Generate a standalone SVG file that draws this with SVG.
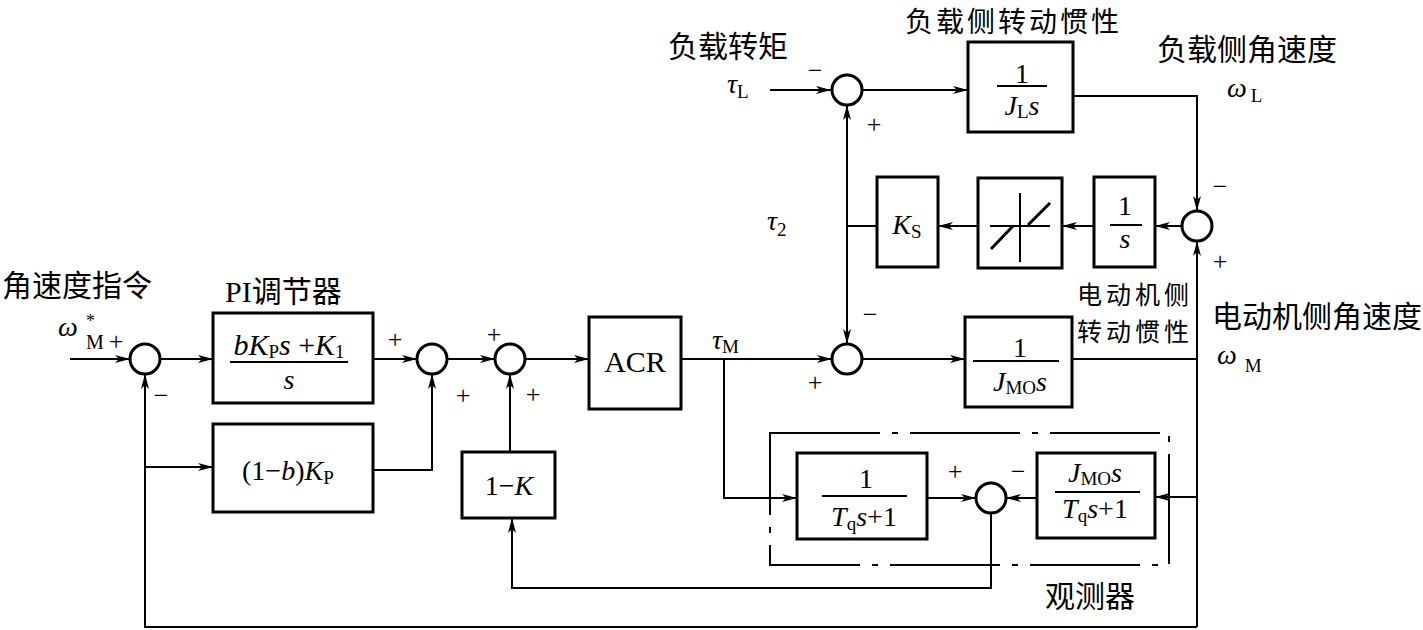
<svg xmlns="http://www.w3.org/2000/svg" width="1423" height="630" viewBox="0 0 1423 630">
<style>
.bg{fill:#fff}
.blk{fill:none;stroke:#000;stroke-width:3}
.sum{fill:#fff;stroke:#000;stroke-width:3}
.ln{fill:none;stroke:#000;stroke-width:2}
.arr{fill:none;stroke:#000;stroke-width:2;marker-end:url(#ah)}
.frac{stroke:#000;stroke-width:2}
.dz{stroke:#000;stroke-width:3;fill:none}
.obs{fill:none;stroke:#000;stroke-width:2;stroke-dasharray:110 12 6 12}
.cn{font-family:"Noto Sans CJK SC","Noto Sans CJK TC",sans-serif;font-size:30px;fill:#000}
.m{font-family:"Liberation Serif",serif;font-size:28px;fill:#000}
.i{font-style:italic}
.sub{font-size:19px;font-style:normal}
.sg{font-family:"Liberation Serif",serif;font-size:26px;fill:#000;text-anchor:middle}
</style>
<defs>
<marker id="ah" markerUnits="userSpaceOnUse" markerWidth="16" markerHeight="8" refX="15" refY="4" orient="auto">
<path d="M0,0 L15,4 L0,8 L4,4 Z" fill="#000"/>
</marker>
</defs>
<rect class="bg" x="0" y="0" width="1423" height="630"/>

<g id="connectors">
<path class="arr" d="M70,359 H130"/>
<path class="arr" d="M160,359 H213"/>
<path class="arr" d="M373,359 H417"/>
<path class="arr" d="M447,359 H495"/>
<path class="arr" d="M525,359 H589"/>
<path class="arr" d="M681,359 H832"/>
<path class="arr" d="M862,359 H965"/>
<path class="ln" d="M1072,359 H1197"/>
<path class="arr" d="M1197,627 V241"/>
<path class="arr" d="M1073,96 H1197 V211"/>
<path class="arr" d="M1182,226 H1155"/>
<path class="arr" d="M1094,226 H1062"/>
<path class="arr" d="M978,226 H938"/>
<path class="ln" d="M877,226 H847"/>
<path class="arr" d="M847,226 V105"/>
<path class="arr" d="M847,226 V344"/>
<path class="arr" d="M770,90 H831"/>
<path class="arr" d="M862,90 H968"/>
<path class="arr" d="M724,359 V498 H797"/>
<path class="arr" d="M927,498 H976"/>
<path class="arr" d="M1037,498 H1006"/>
<path class="arr" d="M1197,497 H1155"/>
<path class="arr" d="M991,513 V588 H512 V518"/>
<path class="arr" d="M510,452 V374"/>
<path class="arr" d="M145,467 H213"/>
<path class="arr" d="M373,470 H432 V374"/>
<path class="arr" d="M1197,627 H145 V374"/>
</g>

<g id="observer">
<rect class="obs" x="770" y="433" width="399" height="132"/>
<text class="cn" x="1045" y="607">观测器</text>
</g>

<g id="S1"><circle class="sum" cx="145" cy="359" r="15"/>
<text class="sg" x="116" y="350">+</text><text class="sg" x="161" y="404">−</text></g>
<g id="S2"><circle class="sum" cx="432" cy="359" r="15"/>
<text class="sg" x="395" y="348">+</text><text class="sg" x="463" y="404">+</text></g>
<g id="S3"><circle class="sum" cx="510" cy="359" r="15"/>
<text class="sg" x="494" y="343">+</text><text class="sg" x="533" y="403">+</text></g>
<g id="S4"><circle class="sum" cx="847" cy="359" r="15"/>
<text class="sg" x="870" y="323">−</text><text class="sg" x="815" y="391">+</text></g>
<g id="S0"><circle class="sum" cx="847" cy="90" r="15"/>
<text class="sg" x="815" y="79">−</text><text class="sg" x="874" y="133">+</text></g>
<g id="S5"><circle class="sum" cx="1197" cy="226" r="15"/>
<text class="sg" x="1220" y="195">−</text><text class="sg" x="1220" y="270">+</text></g>
<g id="S6"><circle class="sum" cx="991" cy="498" r="15"/>
<text class="sg" x="955" y="480">+</text><text class="sg" x="1018" y="480">−</text></g>

<g id="PI">
<rect class="blk" x="213" y="313" width="160" height="90"/>
<text class="m" x="289" y="355" text-anchor="middle" style="font-size:30px"><tspan class="i">bK</tspan><tspan class="sub" dy="3">P</tspan><tspan class="i" dy="-3">s</tspan> +<tspan class="i">K</tspan><tspan class="sub" dy="3">1</tspan></text>
<line class="frac" x1="230" y1="362" x2="348" y2="362"/>
<text class="m i" x="289" y="389" text-anchor="middle">s</text>
</g>
<g id="PK">
<rect class="blk" x="213" y="424" width="160" height="88"/>
<text class="m" x="242" y="480">(1−<tspan class="i">b</tspan>)<tspan class="i">K</tspan><tspan class="sub" dy="4">P</tspan></text>
</g>
<g id="ACR">
<rect class="blk" x="589" y="317" width="92" height="92"/>
<text class="m" x="635" y="372" text-anchor="middle" style="font-size:30px">ACR</text>
</g>
<g id="OneMinusK">
<rect class="blk" x="462" y="452" width="93" height="66"/>
<text class="m" x="509" y="495" text-anchor="middle">1−<tspan class="i">K</tspan></text>
</g>
<g id="JL">
<rect class="blk" x="968" y="42" width="105" height="90"/>
<text class="m" x="1022" y="83" text-anchor="middle">1</text>
<line class="frac" x1="997" y1="86" x2="1047" y2="86"/>
<text class="m" x="1022" y="115" text-anchor="middle"><tspan class="i">J</tspan><tspan class="sub" dy="3">L</tspan><tspan class="i" dy="-3">s</tspan></text>
</g>
<g id="Integ">
<rect class="blk" x="1094" y="177" width="61" height="90"/>
<text class="m" x="1125" y="215" text-anchor="middle">1</text>
<line class="frac" x1="1110" y1="225" x2="1142" y2="225"/>
<text class="m i" x="1125" y="248" text-anchor="middle">s</text>
</g>
<g id="DeadZone">
<rect class="blk" x="978" y="178" width="84" height="90"/>
<line class="ln" x1="990" y1="226" x2="1050" y2="226"/>
<line class="ln" x1="1020" y1="193" x2="1020" y2="262"/>
<line class="dz" x1="991" y1="249" x2="1013" y2="226"/>
<line class="dz" x1="1028" y1="225" x2="1050" y2="203"/>
</g>
<g id="KS">
<rect class="blk" x="877" y="177" width="61" height="90"/>
<text class="m" x="907" y="234" text-anchor="middle"><tspan class="i">K</tspan><tspan class="sub" dy="4">S</tspan></text>
</g>
<g id="JMO">
<rect class="blk" x="965" y="317" width="107" height="90"/>
<text class="m" x="1020" y="357" text-anchor="middle">1</text>
<line class="frac" x1="973" y1="361" x2="1059" y2="361"/>
<text class="m" x="1020" y="391" text-anchor="middle"><tspan class="i">J</tspan><tspan class="sub" dy="3">MO</tspan><tspan class="i" dy="-3">s</tspan></text>
</g>
<g id="Tq">
<rect class="blk" x="797" y="453" width="130" height="86"/>
<text class="m" x="866" y="488" text-anchor="middle">1</text>
<line class="frac" x1="822" y1="496" x2="907" y2="496"/>
<text class="m" x="864" y="526" text-anchor="middle"><tspan class="i">T</tspan><tspan class="sub" dy="4">q</tspan><tspan class="i" dy="-4">s</tspan>+1</text>
</g>
<g id="JMOTq">
<rect class="blk" x="1037" y="453" width="118" height="85"/>
<text class="m" x="1095" y="482" text-anchor="middle"><tspan class="i">J</tspan><tspan class="sub" dy="3">MO</tspan><tspan class="i" dy="-3">s</tspan></text>
<line class="frac" x1="1055" y1="492" x2="1140" y2="492"/>
<text class="m" x="1095" y="518" text-anchor="middle"><tspan class="i">T</tspan><tspan class="sub" dy="4">q</tspan><tspan class="i" dy="-4">s</tspan>+1</text>
</g>

<g id="labels">
<text class="cn" x="2" y="296">角速度指令</text>
<text class="m" x="225" y="302" style="font-size:30px">PI<tspan class="cn">调节器</tspan></text>
<text class="m" x="58" y="336"><tspan class="i">ω</tspan></text>
<text class="m" x="86" y="327" style="font-size:18px">*</text>
<text class="m" x="86" y="349" style="font-size:20px">M</text>
<text class="cn" x="668" y="57">负载转矩</text>
<text class="cn" x="905" y="32" style="font-size:28px;letter-spacing:3px">负载侧转动惯性</text>
<text class="cn" x="1157" y="60">负载侧角速度</text>
<text class="m" x="727" y="93"><tspan class="i">τ</tspan><tspan class="sub" dy="5">L</tspan></text>
<text class="m" x="1227" y="97"><tspan class="i">ω</tspan><tspan class="sub" dx="4" dy="5">L</tspan></text>
<text class="m" x="767" y="230"><tspan class="i">τ</tspan><tspan class="sub" dy="6">2</tspan></text>
<text class="m" x="712" y="349"><tspan class="i">τ</tspan><tspan class="sub" dy="4">M</tspan></text>
<text class="cn" x="1077" y="304" style="font-size:25px;letter-spacing:4px">电动机侧</text>
<text class="cn" x="1077" y="341" style="font-size:25px;letter-spacing:4px">转动惯性</text>
<text class="cn" x="1212" y="327">电动机侧角速度</text>
<text class="m" x="1217" y="364"><tspan class="i">ω</tspan><tspan class="sub" dx="8" dy="8">M</tspan></text>
</g>
</svg>
